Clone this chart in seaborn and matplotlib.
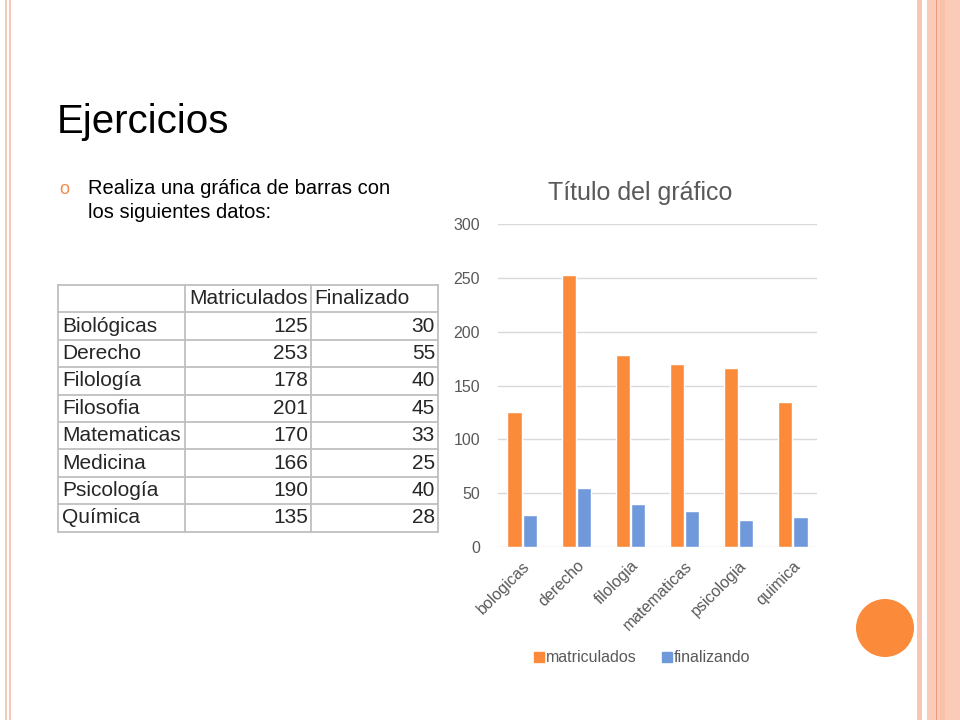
import numpy as np
import pandas as pd
import matplotlib
matplotlib.use("Agg")
import matplotlib.pyplot as plt
import seaborn as sns
from matplotlib.patches import Rectangle, Circle
from matplotlib.lines import Line2D

# datos de la tabla
carreras = ["Biológicas", "Derecho", "Filología", "Filosofia",
            "Matematicas", "Medicina", "Psicología", "Química"]
matriculados_tabla = [125, 253, 178, 201, 170, 166, 190, 135]
finalizado_tabla = [30, 55, 40, 45, 33, 25, 40, 28]

# datos del gráfico
categorias = ["bologicas", "derecho", "filologia", "matematicas", "psicologia", "quimica"]
matriculados = [125, 253, 178, 170, 166, 135]
finalizando = [30, 55, 40, 33, 25, 28]
y_ticks = [0, 50, 100, 150, 200, 250, 300]

NARANJA = "#FB8B3B"
AZUL = "#7099DC"
GRIS = "#595959"

sns.set_theme(style="white")
plt.rcParams["font.family"] = ["Liberation Sans", "DejaVu Sans"]

fig = plt.figure(figsize=(9.6, 7.2), dpi=100)
fig.patch.set_facecolor("white")

# capa de fondo en coordenadas de pixel
bg = fig.add_axes([0, 0, 1, 1])
bg.set_xlim(0, 960)
bg.set_ylim(720, 0)
bg.axis("off")

# bordes decorativos
bg.add_patch(Rectangle((5, 0), 1.5, 720, color="#F8C9B8", lw=0))
bg.add_patch(Rectangle((8.5, 0), 2.5, 720, color="#F8C9B8", lw=0))
bg.add_patch(Rectangle((917, 0), 4.5, 720, color="#F9C6B3", lw=0))
bg.add_patch(Rectangle((927, 0), 33, 720, color="#FBCBB9", lw=0))
bg.add_patch(Rectangle((935.5, 0), 1.2, 720, color="#F09A76", lw=0))
bg.add_patch(Rectangle((940, 0), 5, 720, color="#F9C0AA", lw=0))
bg.add_patch(Circle((885, 628), 29, color="#FC8A3B", lw=0))

# título y viñeta
bg.text(57, 122, "Ejercicios", fontsize=29, color="black", va="center", ha="left")
bg.text(64, 190, "o", fontsize=13, color="#EE8A4E", va="center", ha="center")
bg.text(88, 188, "Realiza una gráfica de barras con", fontsize=14.5, color="black",
        va="center", ha="left")
bg.text(88, 213, "los siguientes datos:", fontsize=14.5, color="black",
        va="center", ha="left")

# tabla
col_x = [58, 185, 311, 438]
top, row_h = 285, 27.4
n_filas = len(carreras) + 1
for i in range(n_filas + 1):
    y = top + i * row_h
    bg.plot([col_x[0], col_x[-1]], [y, y], color="#BFBFBF", lw=1.3)
for x in col_x:
    bg.plot([x, x], [top, top + n_filas * row_h], color="#BFBFBF", lw=1.3)

fs_tabla = 15
bg.text(col_x[2] - 3, top + row_h / 2, "Matriculados", fontsize=fs_tabla,
        ha="right", va="center")
bg.text(col_x[2] + 3, top + row_h / 2, "Finalizado", fontsize=fs_tabla,
        ha="left", va="center")
for i, (nombre, m, f) in enumerate(zip(carreras, matriculados_tabla, finalizado_tabla)):
    yc = top + (i + 1.5) * row_h
    bg.text(col_x[0] + 4, yc, nombre, fontsize=fs_tabla, ha="left", va="center")
    bg.text(col_x[2] - 3, yc, str(m), fontsize=fs_tabla, ha="right", va="center")
    bg.text(col_x[3] - 3, yc, str(f), fontsize=fs_tabla, ha="right", va="center")

# gráfico de barras
df = pd.DataFrame({
    "categoria": categorias * 2,
    "valor": matriculados + finalizando,
    "serie": ["matriculados"] * len(categorias) + ["finalizando"] * len(categorias),
})

ax = fig.add_axes([498 / 960, (720 - 547) / 720, 319 / 960, 323 / 720])
ax.set_facecolor("none")
sns.barplot(data=df, x="categoria", y="valor", hue="serie",
            hue_order=["matriculados", "finalizando"],
            palette=[NARANJA, AZUL], width=0.58, gap=0.1, ax=ax, legend=False,
            saturation=1, zorder=3)

ax.set_ylim(0, 300)
ax.set_yticks(y_ticks)
ax.set_xlim(-0.45, len(categorias) - 0.55)
ax.yaxis.grid(True, color="#D9D9D9", lw=1, zorder=0)
ax.set_axisbelow(True)
for s in ax.spines.values():
    s.set_visible(False)
ax.tick_params(axis="both", length=0, labelsize=11.5, labelcolor=GRIS)
ax.tick_params(axis="y", pad=13)
ax.tick_params(axis="x", pad=8)
ax.set_xticks(range(len(categorias)))
ax.set_xticklabels(categorias, rotation=45, ha="right", rotation_mode="anchor")
ax.set_xlabel("")
ax.set_ylabel("")

fig.text(640 / 960, 1 - 193 / 720, "Título del gráfico", fontsize=18, color=GRIS,
         ha="center", va="center")

handles = [Line2D([], [], marker="s", ls="", color=NARANJA, markersize=6.5),
           Line2D([], [], marker="s", ls="", color=AZUL, markersize=6.5)]
fig.legend(handles, ["matriculados", "finalizando"], loc="center",
           bbox_to_anchor=(642 / 960, 1 - 658 / 720), ncol=2, frameon=False,
           fontsize=11.5, labelcolor=GRIS, handletextpad=0.05, columnspacing=1.6,
           handlelength=0.7)

fig.savefig("out.png", dpi=100)
